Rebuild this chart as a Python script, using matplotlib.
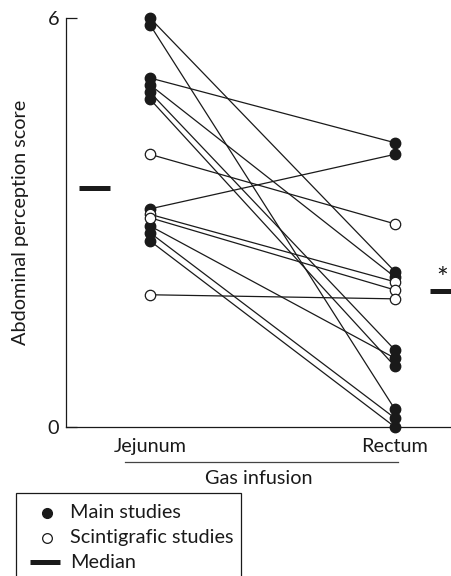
import matplotlib
matplotlib.use("Agg")
import matplotlib.pyplot as plt
from matplotlib.lines import Line2D
from matplotlib.patches import Rectangle

plt.rcParams["font.family"] = ["Lato", "DejaVu Sans"]

# paired abdominal perception scores, jejunum vs rectum gas infusion
main_jejunum = [6.00, 5.90, 5.12, 5.02, 4.91, 4.81, 3.20, 2.95, 2.85, 2.73]
main_rectum = [2.28, 0.26, 4.17, 2.20, 1.13, 0.89, 4.00, 1.01, 0.13, 0.00]
scint_jejunum = [4.00, 3.12, 3.07, 1.94]
scint_rectum = [2.98, 2.13, 2.01, 1.88]
median_jejunum = 3.5
median_rectum = 2.0
sites = ["Jejunum", "Rectum"]

INK = "#1a1a1a"
FS = 14.3

fig = plt.figure(figsize=(4.51, 5.76), dpi=100)
ax = fig.add_axes([66 / 451, 149 / 576, 385 / 451, 409 / 576])
ax.set_xlim(-0.343, 1.229)
ax.set_ylim(0, 6)

for j, r in zip(main_jejunum, main_rectum):
    ax.plot([0, 1], [j, r], color=INK, lw=0.9, zorder=1)
for j, r in zip(scint_jejunum, scint_rectum):
    ax.plot([0, 1], [j, r], color=INK, lw=0.9, zorder=1)

ax.plot([0] * len(main_jejunum), main_jejunum, "o", ms=7.5, mfc=INK, mec=INK, zorder=3, clip_on=False)
ax.plot([1] * len(main_rectum), main_rectum, "o", ms=7.5, mfc=INK, mec=INK, zorder=3, clip_on=False)
ax.plot([0] * len(scint_jejunum), scint_jejunum, "o", ms=7.5, mfc="white", mec=INK, mew=0.9, zorder=4)
ax.plot([1] * len(scint_rectum), scint_rectum, "o", ms=7.5, mfc="white", mec=INK, mew=0.9, zorder=4)

# median bars beside each column
ax.plot([-0.29, -0.163], [median_jejunum] * 2, color=INK, lw=3.6, solid_capstyle="butt", clip_on=False)
ax.plot([1.143, 1.233], [median_rectum] * 2, color=INK, lw=3.6, solid_capstyle="butt", clip_on=False)
ax.text(1.195, median_rectum + 0.15, "*", fontsize=20, ha="center", va="center", color=INK)

for s in ("top", "right"):
    ax.spines[s].set_visible(False)
for s in ("left", "bottom"):
    ax.spines[s].set_linewidth(0.9)
    ax.spines[s].set_color(INK)

ax.set_yticks([0, 6])
ax.tick_params(axis="y", direction="in", length=8, width=0.9, labelsize=FS, pad=5, colors=INK)
ax.set_xticks([0, 1])
ax.set_xticklabels(sites)
ax.tick_params(axis="x", length=0, labelsize=FS, pad=8, colors=INK)

ax.plot([-0.102, 1.012], [-0.51, -0.51], color="#444444", lw=0.9, clip_on=False)
ax.set_xlabel("Gas infusion", fontsize=FS, color=INK, labelpad=11)
ax.set_ylabel("Abdominal perception score", fontsize=FS, color=INK)
ax.yaxis.set_label_coords(-0.095, 0.5)

# legend box (runs off the bottom edge like the original)
def fx(px):
    return px / 451

def fy(py):
    return 1 - py / 576

fig.add_artist(Rectangle((fx(16), fy(590)), fx(241) - fx(16), fy(493) - fy(590),
                         transform=fig.transFigure, fill=False, lw=0.9, ec=INK))
fig.add_artist(Line2D([fx(47)], [fy(513)], marker="o", ms=7, mfc=INK, mec=INK,
                      transform=fig.transFigure))
fig.add_artist(Line2D([fx(47)], [fy(538)], marker="o", ms=7, mfc="white", mec=INK, mew=0.9,
                      transform=fig.transFigure))
fig.add_artist(Line2D([fx(30), fx(60)], [fy(562), fy(562)], lw=3.6, color=INK,
                      solid_capstyle="butt", transform=fig.transFigure))
for py, label in [(513, "Main studies"), (538, "Scintigrafic studies"), (562, "Median")]:
    fig.text(fx(70), fy(py), label, fontsize=FS, va="center", ha="left", color=INK)

fig.savefig("out.png", dpi=100, facecolor="white")
